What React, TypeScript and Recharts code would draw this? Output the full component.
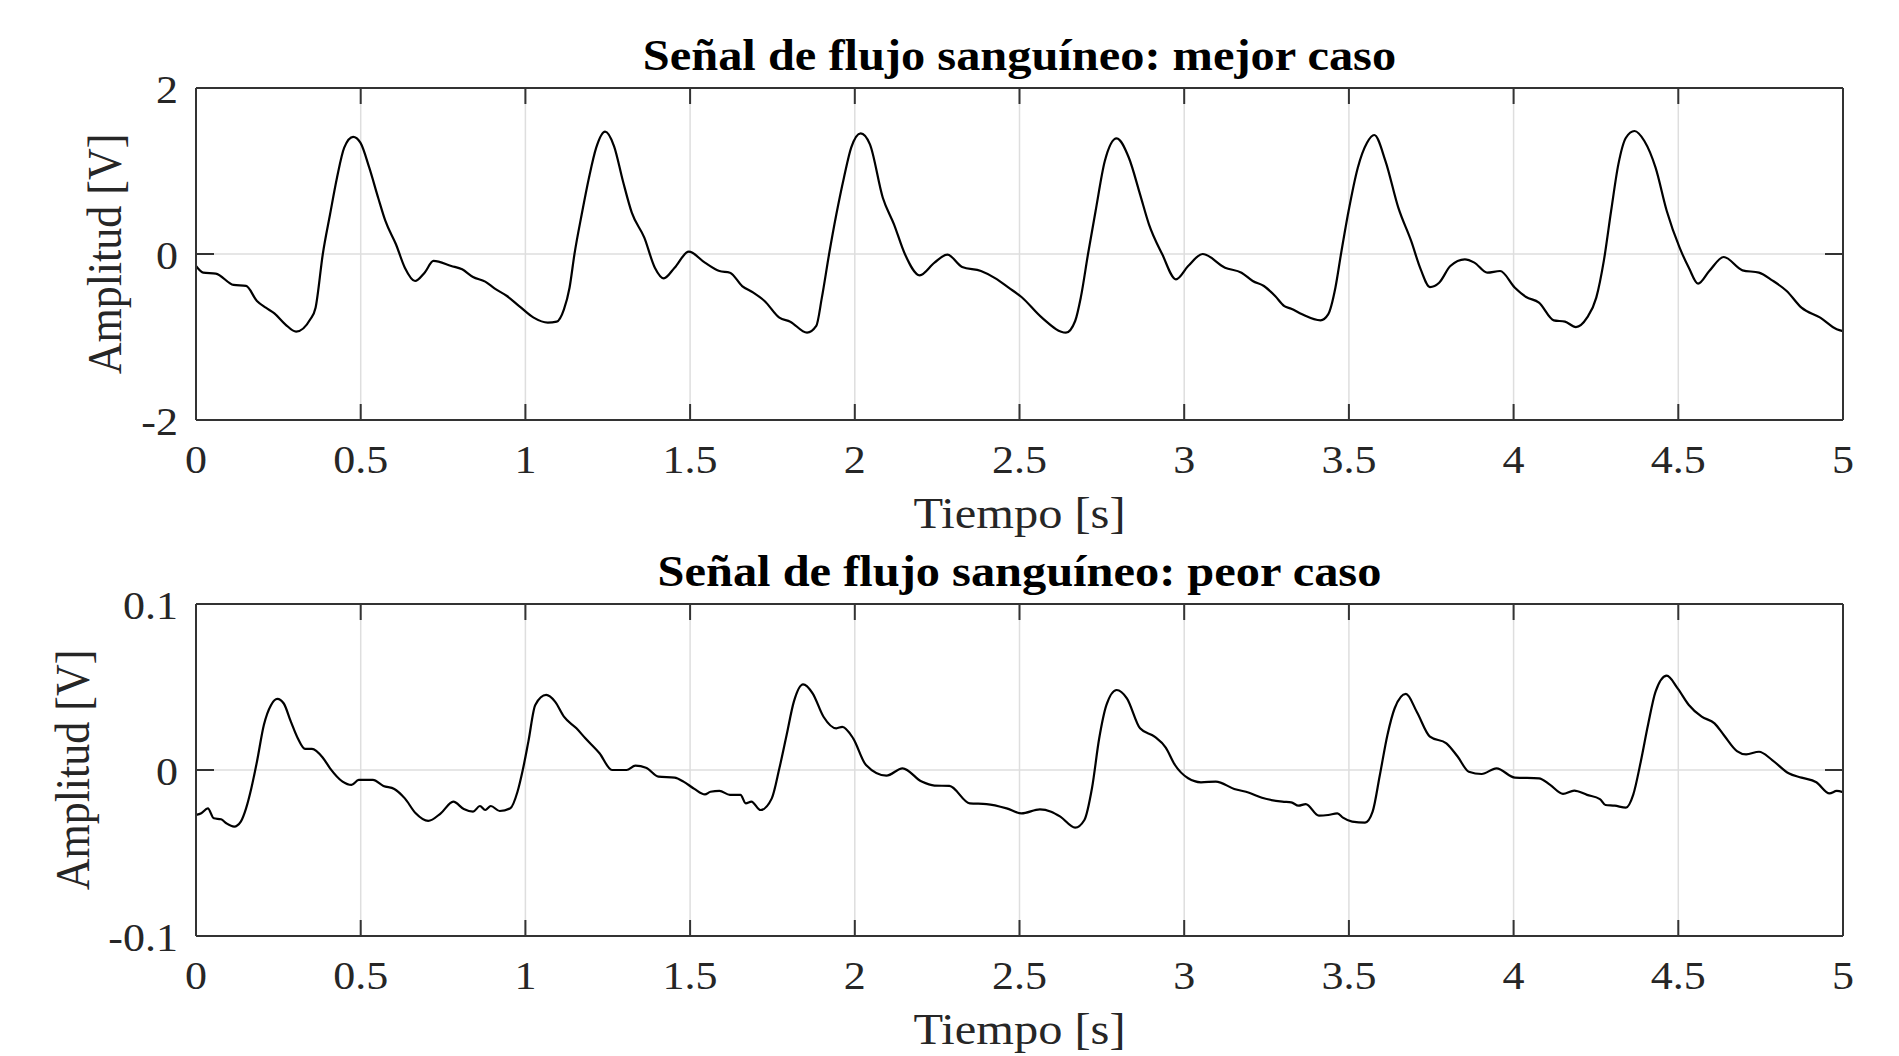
import { LineChart, Line, XAxis, YAxis, CartesianGrid } from 'recharts';

const timeTicks = [0, 0.5, 1, 1.5, 2, 2.5, 3, 3.5, 4, 4.5, 5];
const bestTicks = [-2, 0, 2];
const worstTicks = [-0.1, 0, 0.1];

const bestTitle = 'Señal de flujo sanguíneo: mejor caso';
const worstTitle = 'Señal de flujo sanguíneo: peor caso';
const xLabel = 'Tiempo [s]';
const yLabel = 'Amplitud [V]';

const bestTime = [
  0, 0.022, 0.06, 0.114, 0.152, 0.185, 0.212, 0.238, 0.271, 0.304, 0.347, 0.363, 0.385, 0.407, 0.428, 0.45,
  0.477, 0.499, 0.526, 0.553, 0.575, 0.607, 0.634, 0.665, 0.694, 0.721, 0.775, 0.808, 0.841, 0.878, 0.906,
  0.944, 0.981, 1.025, 1.068, 1.095, 1.117, 1.134, 1.149, 1.171, 1.193, 1.215, 1.242, 1.269, 1.296, 1.323,
  1.361, 1.393, 1.42, 1.453, 1.496, 1.545, 1.589, 1.621, 1.658, 1.692, 1.726, 1.771, 1.804, 1.855, 1.883,
  1.9, 1.922, 1.944, 1.967, 1.989, 2.018, 2.046, 2.085, 2.119, 2.152, 2.197, 2.242, 2.281, 2.326, 2.383,
  2.427, 2.467, 2.506, 2.568, 2.641, 2.669, 2.686, 2.708, 2.731, 2.759, 2.795, 2.832, 2.866, 2.893, 2.933,
  2.975, 3.012, 3.056, 3.124, 3.174, 3.208, 3.242, 3.276, 3.304, 3.325, 3.358, 3.414, 3.437, 3.459, 3.476,
  3.499, 3.527, 3.555, 3.577, 3.611, 3.65, 3.689, 3.718, 3.746, 3.774, 3.808, 3.852, 3.881, 3.92, 3.959,
  4.004, 4.038, 4.077, 4.122, 4.156, 4.189, 4.223, 4.251, 4.274, 4.296, 4.318, 4.341, 4.367, 4.397, 4.431,
  4.465, 4.504, 4.532, 4.56, 4.594, 4.638, 4.695, 4.745, 4.785, 4.829, 4.874, 4.931, 4.981, 5,
];
const bestAmp = [
  -0.145, -0.225, -0.236, -0.373, -0.385, -0.566, -0.647, -0.715, -0.847, -0.936, -0.787, -0.647, 0, 0.478,
  0.919, 1.281, 1.41, 1.341, 1.04, 0.678, 0.398, 0.117, -0.165, -0.325, -0.225, -0.084, -0.145, -0.185,
  -0.277, -0.333, -0.414, -0.506, -0.627, -0.767, -0.827, -0.815, -0.667, -0.406, 0, 0.478, 0.919, 1.281,
  1.474, 1.301, 0.88, 0.498, 0.197, -0.165, -0.293, -0.165, 0.028, -0.104, -0.205, -0.225, -0.386, -0.466,
  -0.566, -0.767, -0.815, -0.948, -0.867, -0.526, 0, 0.478, 0.919, 1.281, 1.454, 1.321, 0.678, 0.358, 0,
  -0.257, -0.104, -0.008, -0.157, -0.205, -0.293, -0.406, -0.518, -0.767, -0.948, -0.807, -0.526, 0, 0.518,
  1.12, 1.394, 1.16, 0.719, 0.358, 0, -0.305, -0.145, 0, -0.165, -0.225, -0.325, -0.386, -0.506, -0.627,
  -0.66, -0.727, -0.799, -0.727, -0.406, 0, 0.518, 1.04, 1.341, 1.434, 1.12, 0.558, 0.157, -0.185, -0.398,
  -0.346, -0.145, -0.064, -0.104, -0.225, -0.205, -0.406, -0.518, -0.586, -0.799, -0.815, -0.88, -0.767,
  -0.526, -0.08, 0.518, 1.08, 1.401, 1.482, 1.361, 1.04, 0.518, 0.076, -0.165, -0.357, -0.205, -0.036,
  -0.197, -0.225, -0.317, -0.446, -0.647, -0.767, -0.907, -0.93,
];

const worstTime = [
  0, 0.016, 0.036, 0.054, 0.076, 0.092, 0.116, 0.136, 0.152, 0.168, 0.185, 0.206, 0.228, 0.247, 0.266,
  0.288, 0.309, 0.331, 0.352, 0.385, 0.407, 0.445, 0.472, 0.494, 0.537, 0.569, 0.602, 0.634, 0.667, 0.705,
  0.743, 0.781, 0.813, 0.841, 0.862, 0.878, 0.895, 0.922, 0.954, 0.976, 0.992, 1.009, 1.03, 1.063, 1.09,
  1.117, 1.155, 1.182, 1.225, 1.263, 1.307, 1.334, 1.366, 1.404, 1.453, 1.48, 1.513, 1.545, 1.562, 1.589,
  1.621, 1.653, 1.669, 1.686, 1.714, 1.748, 1.771, 1.793, 1.815, 1.843, 1.872, 1.905, 1.944, 1.962, 1.995,
  2.034, 2.096, 2.145, 2.203, 2.242, 2.287, 2.349, 2.4, 2.461, 2.506, 2.562, 2.596, 2.624, 2.669, 2.697,
  2.72, 2.742, 2.764, 2.795, 2.826, 2.866, 2.91, 2.944, 2.972, 3.012, 3.051, 3.096, 3.152, 3.197, 3.236,
  3.298, 3.325, 3.347, 3.369, 3.409, 3.437, 3.465, 3.482, 3.51, 3.549, 3.572, 3.594, 3.617, 3.639, 3.673,
  3.706, 3.746, 3.796, 3.83, 3.864, 3.903, 3.948, 4.004, 4.077, 4.111, 4.15, 4.184, 4.223, 4.262, 4.279,
  4.307, 4.341, 4.363, 4.386, 4.408, 4.431, 4.465, 4.498, 4.532, 4.571, 4.61, 4.638, 4.678, 4.706, 4.745,
  4.785, 4.835, 4.874, 4.919, 4.959, 4.981, 5,
];
const worstAmp = [
  -0.0271, -0.026, -0.0231, -0.0291, -0.0297, -0.0321, -0.0341, -0.0311, -0.0231, -0.011, 0.005, 0.0271,
  0.0392, 0.0428, 0.0402, 0.0291, 0.0191, 0.0127, 0.0127, 0.0074, 0.001, -0.007, -0.009, -0.006, -0.006,
  -0.0096, -0.0114, -0.0171, -0.0261, -0.0307, -0.0261, -0.0191, -0.0235, -0.0251, -0.0217, -0.0241,
  -0.0217, -0.0247, -0.0231, -0.0131, 0, 0.0171, 0.0392, 0.0452, 0.0412, 0.0321, 0.0251, 0.0191, 0.0101,
  0, 0, 0.0026, 0.0014, -0.004, -0.0046, -0.007, -0.0114, -0.0147, -0.0131, -0.0126, -0.015, -0.015,
  -0.0201, -0.019, -0.0241, -0.0171, 0.001, 0.0211, 0.0412, 0.0516, 0.0462, 0.0321, 0.0251, 0.026, 0.0191,
  0.003, -0.0034, 0.001, -0.007, -0.0094, -0.0096, -0.0201, -0.0205, -0.0231, -0.0261, -0.0237, -0.0251,
  -0.0281, -0.0347, -0.0301, -0.011, 0.0191, 0.0392, 0.0482, 0.0432, 0.0251, 0.0201, 0.0135, 0.003, -0.005,
  -0.0074, -0.007, -0.0114, -0.0137, -0.0167, -0.0191, -0.0195, -0.0215, -0.0205, -0.0275, -0.0271,
  -0.0261, -0.0287, -0.0311, -0.0317, -0.0251, -0.003, 0.0211, 0.0372, 0.0458, 0.0351, 0.0201, 0.0161,
  0.0081, -0.001, -0.0024, 0.001, -0.0046, -0.005, -0.009, -0.0144, -0.0124, -0.015, -0.0175, -0.0211,
  -0.0215, -0.0227, -0.015, 0.005, 0.0271, 0.0472, 0.0568, 0.0492, 0.0392, 0.0321, 0.0281, 0.0211, 0.0114,
  0.0094, 0.011, 0.006, -0.002, -0.0046, -0.0074, -0.0141, -0.0126, -0.0134,
];

const FONT = '"Liberation Serif", "Times New Roman", serif';
const STRETCH = 1.1;
const TEXT = '#262626';
const AXIS = '#333333';

const W = 1899;
const H = 540;
const PLOT_LEFT = 196;
const PLOT_RIGHT = 1843;
const PLOT_TOP = 88;
const PLOT_BOTTOM = 420;

function XTick(props: any) {
  const { x, y, payload } = props;
  return (
    <text
      transform={`translate(${x},${y + 53}) scale(${STRETCH},1)`}
      textAnchor="middle"
      fontFamily={FONT}
      fontSize={40}
      fill={TEXT}
    >
      {String(payload.value)}
    </text>
  );
}

function YTick(props: any) {
  const { x, y, payload } = props;
  return (
    <text
      transform={`translate(${x - 18},${y + 15}) scale(${STRETCH},1)`}
      textAnchor="end"
      fontFamily={FONT}
      fontSize={40}
      fill={TEXT}
    >
      {String(payload.value)}
    </text>
  );
}

function NoTick() {
  return <g />;
}

interface PanelProps {
  top: number;
  time: number[];
  amp: number[];
  domain: [number, number];
  ticks: number[];
  title: string;
  yLabelX: number;
}

function Panel({ top, time, amp, domain, ticks, title, yLabelX }: PanelProps) {
  const data = time.map((t, i) => ({ t, v: amp[i] }));
  const midX = (PLOT_LEFT + PLOT_RIGHT) / 2;
  const midY = (PLOT_TOP + PLOT_BOTTOM) / 2;
  return (
    <div style={{ position: 'absolute', left: 0, top, width: W, height: H }}>
      <LineChart
        width={W}
        height={H}
        data={data}
        margin={{ top: PLOT_TOP - 10, right: W - PLOT_RIGHT - 10, bottom: H - PLOT_BOTTOM - 10, left: PLOT_LEFT - 60 }}
      >
        <CartesianGrid stroke="#dedede" strokeWidth={1.5} />
        <XAxis
          dataKey="t"
          type="number"
          domain={[0, 5]}
          ticks={timeTicks}
          allowDataOverflow
          height={10}
          tickSize={-16}
          tickMargin={16}
          tick={<XTick />}
          axisLine={{ stroke: AXIS, strokeWidth: 2 }}
          tickLine={{ stroke: AXIS, strokeWidth: 2 }}
          interval={0}
        />
        <XAxis
          xAxisId="top"
          orientation="top"
          dataKey="t"
          type="number"
          domain={[0, 5]}
          ticks={timeTicks}
          allowDataOverflow
          height={10}
          tickSize={-16}
          tick={<NoTick />}
          axisLine={{ stroke: AXIS, strokeWidth: 2 }}
          tickLine={{ stroke: AXIS, strokeWidth: 2 }}
          interval={0}
        />
        <YAxis
          type="number"
          domain={domain}
          ticks={ticks}
          allowDataOverflow
          width={60}
          tickSize={-18}
          tickMargin={18}
          tick={<YTick />}
          axisLine={{ stroke: AXIS, strokeWidth: 2 }}
          tickLine={{ stroke: AXIS, strokeWidth: 2 }}
          interval={0}
        />
        <YAxis
          yAxisId="right"
          orientation="right"
          type="number"
          domain={domain}
          ticks={ticks}
          allowDataOverflow
          width={10}
          tickSize={-18}
          tick={<NoTick />}
          axisLine={{ stroke: AXIS, strokeWidth: 2 }}
          tickLine={{ stroke: AXIS, strokeWidth: 2 }}
          interval={0}
        />
        <Line
          type="monotone"
          dataKey="v"
          stroke="#000000"
          strokeWidth={2.2}
          dot={false}
          isAnimationActive={false}
        />
      </LineChart>
      <svg
        width={W}
        height={H}
        style={{ position: 'absolute', left: 0, top: 0, pointerEvents: 'none', overflow: 'visible' }}
      >
        <text
          transform={`translate(${midX},${PLOT_TOP - 18}) scale(${STRETCH},1)`}
          textAnchor="middle"
          fontFamily={FONT}
          fontSize={44}
          fontWeight="bold"
          fill="#000"
        >
          {title}
        </text>
        <text
          transform={`translate(${midX},${PLOT_BOTTOM + 108}) scale(${STRETCH},1)`}
          textAnchor="middle"
          fontFamily={FONT}
          fontSize={44}
          fill={TEXT}
        >
          {xLabel}
        </text>
        <text
          transform={`translate(${yLabelX},${midY}) scale(${STRETCH},1) rotate(-90)`}
          textAnchor="middle"
          fontFamily={FONT}
          fontSize={44}
          fill={TEXT}
        >
          {yLabel}
        </text>
      </svg>
    </div>
  );
}

export default function App() {
  return (
    <div style={{ position: 'absolute', left: 0, top: 0, width: W, height: 1056, background: '#fff' }}>
      <Panel top={0} time={bestTime} amp={bestAmp} domain={[-2, 2]} ticks={bestTicks} title={bestTitle} yLabelX={121} />
      <Panel top={516} time={worstTime} amp={worstAmp} domain={[-0.1, 0.1]} ticks={worstTicks} title={worstTitle} yLabelX={89} />
    </div>
  );
}
